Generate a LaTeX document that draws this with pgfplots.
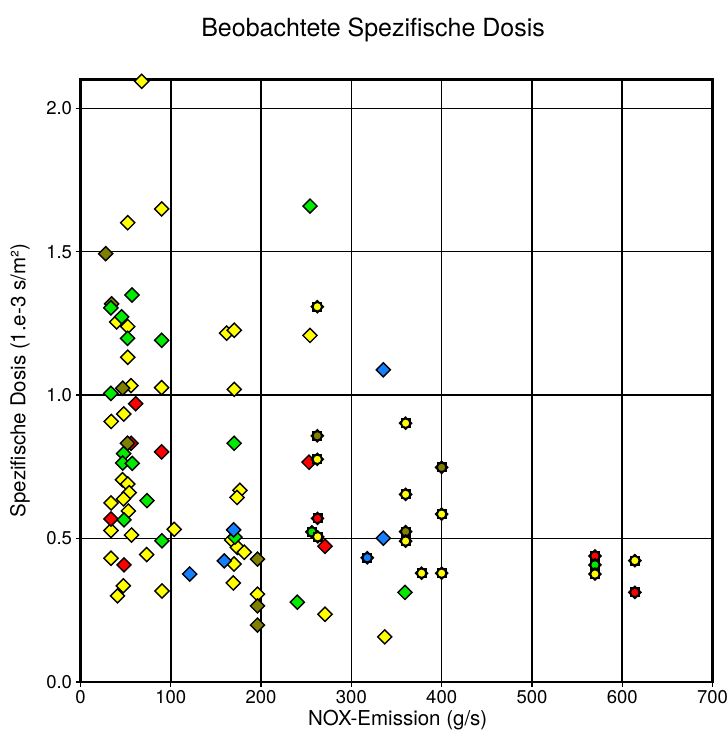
\documentclass[border=0pt]{standalone}
\usepackage{fontspec}
\setmainfont{TeX Gyre Heros}
\usepackage{pgfplots}
\pgfplotsset{compat=1.18}

\definecolor{cyel}{RGB}{255,255,0}
\definecolor{cgrn}{RGB}{0,235,0}
\definecolor{cred}{RGB}{255,0,0}
\definecolor{colv}{RGB}{128,128,0}
\definecolor{cblu}{RGB}{20,128,255}

% black eight-pointed star behind a coloured circle
\pgfdeclareplotmark{sun}{%
  \pgfscope
  \pgfsetfillcolor{black}%
  \pgfpathrectangle{\pgfqpoint{-\pgfplotmarksize}{-\pgfplotmarksize}}{\pgfqpoint{2\pgfplotmarksize}{2\pgfplotmarksize}}%
  \pgfusepathqfill
  \pgfpathmoveto{\pgfqpoint{0pt}{1.414\pgfplotmarksize}}%
  \pgfpathlineto{\pgfqpoint{1.414\pgfplotmarksize}{0pt}}%
  \pgfpathlineto{\pgfqpoint{0pt}{-1.414\pgfplotmarksize}}%
  \pgfpathlineto{\pgfqpoint{-1.414\pgfplotmarksize}{0pt}}%
  \pgfpathclose
  \pgfusepathqfill
  \endpgfscope
  \pgfpathcircle{\pgfpointorigin}{0.86\pgfplotmarksize}%
  \pgfusepathqfillstroke
}

\begin{document}
\begin{tikzpicture}
\begin{axis}[
  at={(80.5bp,49.1bp)}, anchor=south west,
  scale only axis, width=632bp, height=602.3bp,
  xmin=0, xmax=700, ymin=0, ymax=2.1,
  xtick={0,100,...,700}, ytick={0,0.5,1,1.5,2},
  grid=major, major grid style={black, line width=1.5bp},
  axis line style={black, line width=2.4bp},
  tick style={black, line width=1.3bp},
  tick align=outside, tick pos=left, major tick length=5bp,
  /pgf/number format/assume math mode=true,
  yticklabel style={/pgf/number format/.cd, fixed, fixed zerofill, precision=1},
  ticklabel style={font=\fontsize{18.5bp}{20bp}\selectfont},
  xlabel={NOX-Emission (g/s)},
  ylabel={Spezifische Dosis (1.e-3 s/m²)},
  label style={font=\fontsize{20.5bp}{22bp}\selectfont},
  xlabel style={at={(axis description cs:0.502,-0.0725)}, anchor=base},
  ylabel style={at={(axis description cs:-0.096,0.5)}, anchor=center},
  title={Beobachtete Spezifische Dosis},
  title style={at={(axis description cs:0.463,1.061)}, anchor=base, font=\fontsize{25bp}{28bp}\selectfont},
  every axis plot/.append style={only marks},
  dia/.style={mark=square*, mark size=5bp, mark options={rotate=45, draw=black, line width=1.4bp, fill=#1}},
  sunm/.style={mark=sun, mark size=5bp, mark options={draw=black, line width=1.2bp, fill=#1}},
]
% yellow diamonds
\addplot[dia=cyel] coordinates {
(67.8,2.094) (52.3,1.601) (89.9,1.649) (40.1,1.255) (52.3,1.239) (52.3,1.132)
(161.9,1.216) (170.3,1.226) (55.9,1.033) (89.9,1.026) (170.3,1.020) (47.9,0.934)
(34.0,0.908) (46.5,0.705) (52.3,0.690) (54.0,0.660) (47.6,0.638) (33.8,0.624)
(53.0,0.596) (33.8,0.528) (56.5,0.512) (103.8,0.532) (33.8,0.431) (73.3,0.444)
(47.4,0.335) (41.0,0.300) (90.3,0.317) (176.6,0.668) (173.4,0.643) (167.4,0.495)
(173.8,0.469) (181.4,0.452) (170.0,0.411) (169.2,0.345) (196.0,0.306)
(254.2,1.208) (270.8,0.236) (337.0,0.157)
};
% red diamonds
\addplot[dia=cred] coordinates {
(56.0,0.832) (61.1,0.970) (89.9,0.802) (33.8,0.568) (48.2,0.408) (253.1,0.766) (270.8,0.473)
};
% olive diamonds
\addplot[dia=colv] coordinates {
(27.9,1.493) (34.5,1.318) (46.7,1.024) (52.1,0.832) (196.0,0.428) (196.0,0.265) (196.0,0.198)
};
% green diamonds
\addplot[dia=cgrn] coordinates {
(57.0,1.349) (33.6,1.304) (45.6,1.273) (52.1,1.198) (89.9,1.191) (33.6,1.006)
(170.2,0.832) (47.8,0.796) (46.7,0.763) (57.3,0.762) (73.6,0.632) (48.2,0.565)
(90.2,0.492) (171.0,0.505) (240.1,0.278) (254.2,1.659) (359.4,0.312)
};
% blue diamonds
\addplot[dia=cblu] coordinates {
(169.6,0.530) (159.2,0.422) (121.0,0.376) (335.4,1.088) (335.4,0.501)
};
% circle markers
\addplot[sunm=colv] coordinates {(262.3,0.858) (400.0,0.748) (360.1,0.524)};
\addplot[sunm=cred] coordinates {(262.5,0.570) (569.8,0.439) (614.0,0.312)};
\addplot[sunm=cgrn] coordinates {(256.3,0.523) (569.8,0.408)};
\addplot[sunm=cblu] coordinates {(317.6,0.433)};
\addplot[sunm=cyel] coordinates {
(262.3,1.308) (262.3,0.776) (262.7,0.506) (360.1,0.902) (360.1,0.654) (400.0,0.585)
(360.1,0.491) (377.8,0.379) (400.0,0.379) (569.8,0.376) (614.0,0.423)
};
\end{axis}
\pgfresetboundingbox
\useasboundingbox (0,0) rectangle (728bp,731bp);
\end{tikzpicture}
\end{document}
